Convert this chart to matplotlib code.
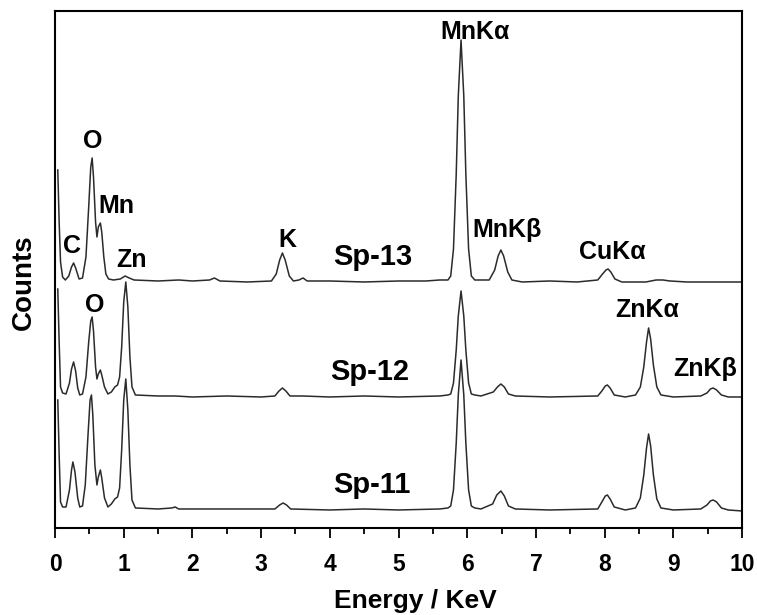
import matplotlib
matplotlib.use("Agg")
import matplotlib.pyplot as plt
from matplotlib.ticker import MultipleLocator

plt.rcParams['font.family'] = ['Liberation Sans', 'DejaVu Sans']
plt.rcParams['font.weight'] = 'bold'

# traced EDS spectra: energy (keV) and counts above each spectrum's own baseline (a.u.)
sp13_energy = [0.04, 0.06, 0.08, 0.11, 0.15, 0.20, 0.24, 0.27, 0.30, 0.35, 0.40, 0.45, 0.49, 0.52, 0.54,
               0.56, 0.59, 0.61, 0.63, 0.66, 0.68, 0.71, 0.74, 0.78, 0.85, 0.95, 1.02, 1.08, 1.15, 1.5,
               1.8, 2.0, 2.25, 2.32, 2.4, 2.8, 3.15, 3.22, 3.27, 3.31, 3.35, 3.41, 3.47, 3.55, 3.61,
               3.67, 4.0, 4.5, 5.0, 5.4, 5.6, 5.72, 5.76, 5.80, 5.84, 5.87, 5.91, 5.95, 5.98, 6.02,
               6.06, 6.11, 6.2, 6.32, 6.40, 6.45, 6.49, 6.53, 6.59, 6.65, 6.8, 7.2, 7.6, 7.9, 7.97,
               8.02, 8.05, 8.09, 8.15, 8.25, 8.6, 8.75, 8.85, 8.95, 9.2, 9.6, 10.0]
sp13_counts = [112, 60, 20, 5, 2, 6, 15, 19, 14, 3, 4, 25, 75, 115, 124,
               105, 60, 45, 55, 59, 50, 25, 8, 3, 2, 3, 6, 4, 2, 1,
               2, 1, 2, 4, 1, 0, 1, 8, 22, 29, 22, 6, 1, 2, 4,
               1, 1, 0, 1, 1, 2, 2, 6, 33, 108, 186, 242, 186, 108, 33,
               6, 2, 2, 2, 12, 26, 32, 26, 10, 2, 0, 1, 0, 2, 8,
               12, 13, 10, 3, 0, 0, 2, 2, 1, 0, 0, 0]

sp12_energy = [0.04, 0.06, 0.08, 0.11, 0.16, 0.21, 0.24, 0.27, 0.30, 0.33, 0.36, 0.40, 0.45, 0.49, 0.52,
               0.54, 0.56, 0.59, 0.61, 0.63, 0.66, 0.68, 0.72, 0.77, 0.82, 0.87, 0.91, 0.94, 0.97, 1.00,
               1.03, 1.06, 1.09, 1.12, 1.17, 1.5, 1.75, 2.0, 2.5, 3.0, 3.2, 3.26, 3.31, 3.36, 3.42,
               3.6, 4.0, 4.5, 5.0, 5.6, 5.72, 5.76, 5.80, 5.84, 5.87, 5.91, 5.95, 5.98, 6.02, 6.06,
               6.11, 6.2, 6.38, 6.44, 6.49, 6.54, 6.60, 6.7, 7.2, 7.9, 7.96, 8.01, 8.04, 8.08, 8.14,
               8.3, 8.45, 8.52, 8.57, 8.61, 8.64, 8.67, 8.71, 8.76, 8.82, 9.0, 9.4, 9.49, 9.54, 9.58,
               9.63, 9.7, 9.8, 10.0]
sp12_counts = [108, 55, 10, 4, 3, 14, 28, 35, 26, 9, 2, 3, 20, 55, 76,
               80, 66, 30, 18, 23, 27, 22, 10, 3, 5, 10, 12, 20, 50, 95,
               115, 90, 40, 10, 2, 1, 1, 0, 1, 0, 1, 6, 9, 6, 1,
               1, 0, 1, 0, 1, 2, 3, 14, 47, 81, 106, 81, 47, 14, 3,
               2, 1, 5, 10, 13, 10, 3, 1, 0, 1, 6, 11, 12, 9, 2,
               0, 2, 10, 30, 55, 69, 58, 32, 10, 2, 0, 1, 4, 8, 9,
               7, 2, 0, 0]

sp11_energy = [0.04, 0.06, 0.08, 0.11, 0.16, 0.21, 0.24, 0.26, 0.29, 0.33, 0.36, 0.40, 0.44, 0.48, 0.51,
               0.53, 0.55, 0.58, 0.61, 0.63, 0.66, 0.68, 0.72, 0.77, 0.82, 0.87, 0.91, 0.94, 0.97, 1.00,
               1.03, 1.06, 1.09, 1.12, 1.17, 1.5, 1.7, 1.75, 1.8, 2.5, 3.2, 3.27, 3.32, 3.37, 3.43,
               4.0, 4.5, 5.0, 5.6, 5.72, 5.76, 5.80, 5.84, 5.87, 5.91, 5.95, 5.98, 6.02, 6.06, 6.11,
               6.2, 6.37, 6.43, 6.49, 6.54, 6.60, 6.7, 7.2, 7.9, 7.96, 8.01, 8.04, 8.08, 8.14, 8.3,
               8.45, 8.52, 8.57, 8.61, 8.64, 8.67, 8.71, 8.76, 8.82, 9.0, 9.4, 9.49, 9.54, 9.58, 9.63,
               9.7, 9.8, 10.0]
sp11_counts = [110, 55, 8, 3, 3, 20, 40, 48, 38, 12, 3, 4, 25, 75, 110,
               115, 95, 45, 25, 33, 40, 32, 12, 3, 6, 11, 13, 22, 60, 110,
               131, 100, 45, 10, 2, 1, 2, 3, 1, 1, 1, 5, 7, 5, 1,
               0, 1, 0, 1, 2, 4, 20, 67, 115, 150, 115, 67, 20, 4, 2,
               1, 6, 15, 19, 14, 4, 1, 0, 1, 8, 14, 15, 11, 3, 0,
               2, 12, 35, 62, 76, 64, 35, 11, 2, 0, 1, 5, 9, 10, 8,
               2, 0, -1]

sample_names = ['Sp-13', 'Sp-12', 'Sp-11']

# peak labels: text, energy, height in the stacked plot
peak_texts = ['O', 'Mn', 'C', 'Zn', 'K', 'MnK\u03b1', 'MnK\u03b2', 'CuK\u03b1', 'O', 'ZnK\u03b1', 'ZnK\u03b2']
peak_x = [0.55, 0.89, 0.25, 1.12, 3.38, 6.12, 6.58, 8.11, 0.57, 8.62, 9.46]
peak_y = [380, 315, 275, 261, 281, 489, 291, 269, 216, 211, 152]

fig = plt.figure(figsize=(7.57, 6.15), dpi=100)
ax = fig.add_axes([0.0727, 0.1415, 0.9075, 0.8406])

line_color = '#2b2b2b'
offsets = [246, 131, 18]
spectra = [(sp13_energy, sp13_counts), (sp12_energy, sp12_counts), (sp11_energy, sp11_counts)]
label_x = [4.05, 4.00, 4.05]
for (e, c), off, name, lx in zip(spectra, offsets, sample_names, label_x):
    ax.plot(e, [v + off for v in c], color=line_color, lw=1.1)
    ax.text(lx, off + 17, name, fontsize=21, fontweight='bold', ha='left', va='baseline')

for t, x, y in zip(peak_texts, peak_x, peak_y):
    ax.text(x, y, t, fontsize=18, fontweight='bold', ha='center', va='baseline')

ax.set_xlim(0, 10)
ax.set_ylim(0, 517)
ax.xaxis.set_major_locator(MultipleLocator(1))
ax.xaxis.set_minor_locator(MultipleLocator(0.5))
ax.set_yticks([])
ax.tick_params(axis='x', which='major', direction='out', length=7, width=1.3, labelsize=16.5, pad=11)
ax.tick_params(axis='x', which='minor', direction='out', length=4, width=1.3)
for s in ax.spines.values():
    s.set_linewidth(1.5)
ax.set_xlabel('Energy / KeV', fontsize=19, fontweight='bold')
ax.xaxis.set_label_coords(0.524, -0.118)
ax.set_ylabel('Counts', fontsize=20, fontweight='bold')
ax.yaxis.set_label_coords(-0.027, 0.476)

fig.savefig('out.png', dpi=100)
